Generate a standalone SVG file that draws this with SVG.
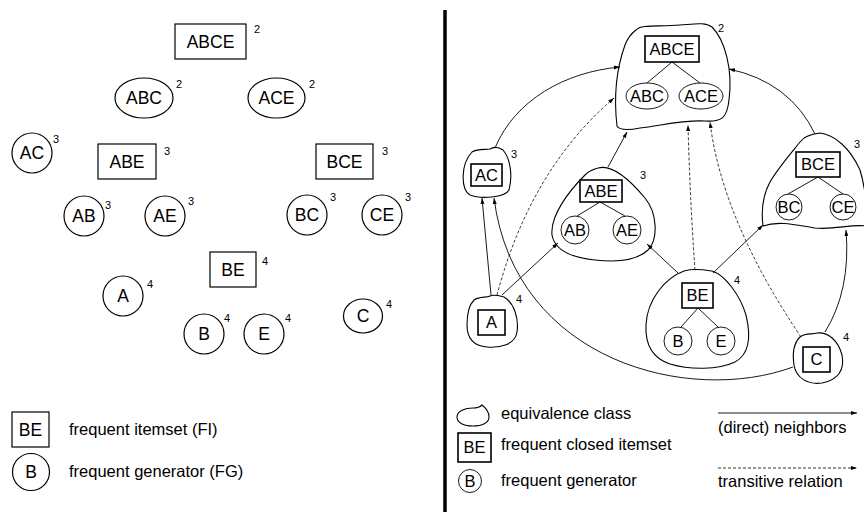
<svg xmlns="http://www.w3.org/2000/svg" width="864" height="512" viewBox="0 0 864 512">
<style>
text{font-family:"Liberation Sans",Arial,sans-serif;fill:#000}
.n{font-size:17.5px;text-anchor:middle}
.r{font-size:16.5px;text-anchor:middle}
.s{font-size:11px}
.l{font-size:16.5px}
.sh{fill:none;stroke:#000;stroke-width:1.2}
.bx{fill:none;stroke:#000;stroke-width:1.6}
.bl{fill:none;stroke:#000;stroke-width:1.1}
.e{fill:none;stroke:#000;stroke-width:0.9}
.c{fill:none;stroke:#000;stroke-width:0.9}
.d{fill:none;stroke:#000;stroke-width:0.8;stroke-dasharray:3 2}
</style>
<defs>
<marker id="ah" markerUnits="userSpaceOnUse" markerWidth="6" markerHeight="4" refX="6" refY="2" orient="auto">
<path d="M0,0 L6,2 L0,4 Z" fill="#000"/>
</marker>
</defs>
<rect width="864" height="512" fill="#fff"/>

<!-- LEFT PANEL -->
<g id="L-ABCE"><rect class="sh" x="175" y="24" width="71" height="35"/><text class="n" x="210.5" y="48">ABCE</text><text class="s" x="254" y="33">2</text></g>
<g id="L-ABC"><ellipse class="sh" cx="144" cy="98" rx="29" ry="20"/><text class="n" x="144" y="104">ABC</text><text class="s" x="176" y="88">2</text></g>
<g id="L-ACE"><ellipse class="sh" cx="276.5" cy="98" rx="28.5" ry="20"/><text class="n" x="276.5" y="104">ACE</text><text class="s" x="309" y="88">2</text></g>
<g id="L-AC"><circle class="sh" cx="32" cy="153" r="20"/><text class="n" x="32" y="159">AC</text><text class="s" x="53" y="143">3</text></g>
<g id="L-ABE"><rect class="sh" x="98" y="144" width="58" height="35"/><text class="n" x="127" y="168">ABE</text><text class="s" x="164" y="155">3</text></g>
<g id="L-BCE"><rect class="sh" x="316" y="144" width="57" height="35"/><text class="n" x="344.5" y="168">BCE</text><text class="s" x="382" y="155">3</text></g>
<g id="L-AB"><circle class="sh" cx="84" cy="216" r="20"/><text class="n" x="84" y="222">AB</text><text class="s" x="105" y="209">3</text></g>
<g id="L-AE"><circle class="sh" cx="165" cy="216" r="20"/><text class="n" x="165" y="222">AE</text><text class="s" x="188" y="205">3</text></g>
<g id="L-BC"><circle class="sh" cx="307" cy="215" r="20"/><text class="n" x="307" y="221">BC</text><text class="s" x="330" y="201">3</text></g>
<g id="L-CE"><circle class="sh" cx="382" cy="215" r="20"/><text class="n" x="382" y="221">CE</text><text class="s" x="405" y="201">3</text></g>
<g id="L-BE"><rect class="sh" x="210" y="252" width="46" height="35"/><text class="n" x="233" y="276">BE</text><text class="s" x="262" y="265">4</text></g>
<g id="L-A"><circle class="sh" cx="123" cy="296" r="20"/><text class="n" x="123" y="302">A</text><text class="s" x="147" y="288">4</text></g>
<g id="L-B"><circle class="sh" cx="204" cy="334" r="20"/><text class="n" x="204" y="340">B</text><text class="s" x="224" y="322">4</text></g>
<g id="L-E"><circle class="sh" cx="264" cy="334" r="20"/><text class="n" x="264" y="340">E</text><text class="s" x="285" y="322">4</text></g>
<g id="L-C"><ellipse class="sh" cx="363" cy="316" rx="19.5" ry="17"/><text class="n" x="363" y="322">C</text><text class="s" x="386" y="308">4</text></g>

<g id="L-legend">
<rect class="sh" x="12" y="412" width="37" height="35"/><text class="n" x="30.5" y="436">BE</text>
<text class="l" x="69" y="435">frequent itemset (FI)</text>
<circle class="sh" cx="31" cy="472" r="18.5"/><text class="n" x="31" y="478">B</text>
<text class="l" x="69" y="477">frequent generator (FG)</text>
</g>

<!-- separator -->
<line x1="445" y1="10" x2="445" y2="512" stroke="#000" stroke-width="3.5"/>

<!-- RIGHT PANEL : connectors -->
<g id="connectors">
<path class="c" d="M495,148 C515,100 565,72 620,67" marker-end="url(#ah)"/>
<path class="d" d="M497,295 Q530,170 614,98" marker-end="url(#ah)"/>
<path class="c" d="M608,167 L627,132" marker-end="url(#ah)"/>
<path class="c" d="M815,134 Q790,82 729,69" marker-end="url(#ah)"/>
<path class="d" d="M695,270 Q690,200 688,125" marker-end="url(#ah)"/>
<path class="d" d="M801,337 Q722,220 710,122" marker-end="url(#ah)"/>
<path class="c" d="M491,295 L482,198" marker-end="url(#ah)"/>
<path class="c" d="M793,367 C690,405 515,362 494,198" marker-end="url(#ah)"/>
<path class="c" d="M502,295 L558,243" marker-end="url(#ah)"/>
<path class="c" d="M678,273 L647,244" marker-end="url(#ah)"/>
<path class="c" d="M713,273 L763,225" marker-end="url(#ah)"/>
<path class="c" d="M825,332 Q851,290 846,230" marker-end="url(#ah)"/>
</g>

<!-- RIGHT PANEL : nodes -->
<g id="R-ABCE">
<path class="bl" d="M636,30 C641,24 660,27 680,25 C695,24 705,22 712,27 C725,40 733,70 729,100 C727,118 722,122 705,121 C680,120 660,126 640,128 C630,130 620,131 617,126 C614,100 616,70 625,45 C628,37 632,33 636,30 Z"/>
<rect class="bx" x="645" y="36" width="54" height="26"/><text class="r" x="672" y="55">ABCE</text>
<line class="e" x1="672" y1="62" x2="647" y2="83"/><line class="e" x1="672" y1="62" x2="700" y2="83"/>
<ellipse class="e" cx="647" cy="96" rx="21" ry="13"/><text class="r" x="647" y="102">ABC</text>
<ellipse class="e" cx="701" cy="96" rx="22" ry="13"/><text class="r" x="701" y="102">ACE</text>
<text class="s" x="718" y="32">2</text>
</g>
<g id="R-AC">
<path class="bl" d="M472,152 C478,148 486,150 490,149 C495,146 500,148 503,150 C510,158 513,175 509,190 C505,198 480,199 470,195 C461,190 460,165 472,152 Z"/>
<rect class="bx" x="471" y="164" width="31" height="22"/><text class="r" x="486.5" y="181">AC</text>
<text class="s" x="511" y="158">3</text>
</g>
<g id="R-ABE">
<path class="bl" d="M598,168 C612,164 630,180 645,198 C658,214 658,240 648,250 C635,262 612,262 595,260 C575,258 555,252 552,235 C550,215 570,190 585,175 C590,170 594,169 598,168 Z"/>
<rect class="bx" x="580" y="180" width="42" height="22"/><text class="r" x="601" y="197">ABE</text>
<line class="e" x1="600" y1="202" x2="577" y2="216"/><line class="e" x1="600" y1="202" x2="625" y2="216"/>
<circle class="e" cx="575" cy="230" r="14"/><text class="r" x="575" y="236">AB</text>
<circle class="e" cx="627" cy="230" r="14"/><text class="r" x="627" y="236">AE</text>
<text class="s" x="640" y="179">3</text>
</g>
<g id="R-BCE">
<path class="bl" d="M800,142 C804,136 812,134 820,133 C835,135 850,148 860,170 C866,190 868,215 866,226 C850,224 835,230 815,228 C800,226 780,220 763,226 C761,210 763,195 770,182 C778,168 792,152 800,142 Z"/>
<rect class="bx" x="796" y="152" width="44" height="25"/><text class="r" x="818" y="170">BCE</text>
<line class="e" x1="818" y1="177" x2="788" y2="194"/><line class="e" x1="818" y1="177" x2="843" y2="194"/>
<circle class="e" cx="789" cy="207" r="13"/><text class="r" x="789" y="213">BC</text>
<circle class="e" cx="843" cy="207" r="13"/><text class="r" x="843" y="213">CE</text>
<text class="s" x="854" y="148">3</text>
</g>
<g id="R-A">
<path class="bl" d="M474,300 C480,296 486,298 490,296 C495,294 500,296 504,297 C514,303 519,318 517,332 C515,345 500,348 487,347 C475,346 467,340 467,325 C467,314 469,305 474,300 Z"/>
<rect class="bx" x="478" y="310" width="27" height="25"/><text class="r" x="491.5" y="328">A</text>
<text class="s" x="516" y="303">4</text>
</g>
<g id="R-BE">
<path class="bl" d="M684,271 C695,268 705,270 712,271 C725,275 740,295 746,315 C752,340 748,355 735,362 C718,370 690,370 670,364 C652,358 645,345 646,325 C647,300 665,278 684,271 Z"/>
<rect class="bx" x="682" y="283" width="31" height="25"/><text class="r" x="697.5" y="301">BE</text>
<line class="e" x1="698" y1="308" x2="681" y2="327"/><line class="e" x1="698" y1="308" x2="718" y2="327"/>
<circle class="e" cx="678" cy="341" r="14"/><text class="r" x="678" y="347">B</text>
<circle class="e" cx="721" cy="341" r="14"/><text class="r" x="721" y="347">E</text>
<text class="s" x="734" y="284">4</text>
</g>
<g id="R-C">
<path class="bl" d="M800,337 C806,332 812,335 817,333 C828,332 838,340 842,355 C845,370 838,380 822,383 C808,385 796,378 794,365 C792,352 795,342 800,337 Z"/>
<rect class="bx" x="803" y="347" width="27" height="25"/><text class="r" x="816.5" y="365">C</text>
<text class="s" x="843" y="341">4</text>
</g>

<g id="R-legend">
<path class="bl" d="M457,417 C457,411 465,408 473,408 C477,408 480,407 482,405 C486,408 489,412 489,417 C489,423 482,426 473,426 C464,426 457,423 457,417 Z"/>
<text class="l" x="501" y="419">equivalence class</text>
<rect class="bx" x="458" y="433" width="33" height="29"/><text class="r" x="474.5" y="453">BE</text>
<text class="l" x="501" y="450">frequent closed itemset</text>
<circle class="e" cx="470" cy="481" r="11.5"/><text class="r" x="470" y="487">B</text>
<text class="l" x="501" y="486">frequent generator</text>
<line class="c" x1="718" y1="413" x2="857" y2="413" marker-end="url(#ah)"/>
<text class="l" x="718" y="433">(direct) neighbors</text>
<line class="d" x1="718" y1="468" x2="857" y2="468" marker-end="url(#ah)"/>
<text class="l" x="718" y="487">transitive relation</text>
</g>
</svg>
